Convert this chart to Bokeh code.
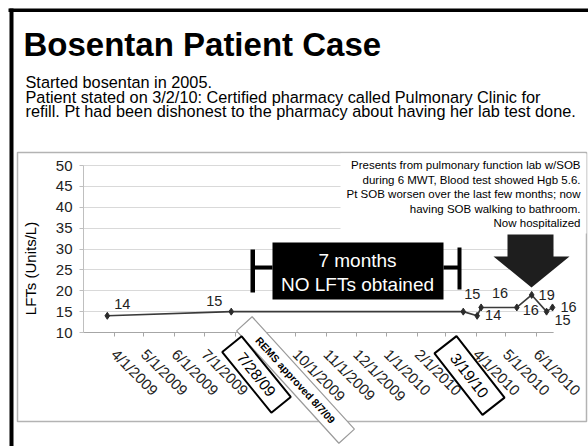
import pandas as pd
from math import pi, radians, cos, sin
from bokeh.plotting import figure
from bokeh.models import Range1d, FixedTicker, ColumnDataSource
from bokeh.core.properties import value
from bokeh.embed import file_html
from bokeh.resources import INLINE

# ---------------- data ----------------
test_dates = ["2009-03-25", "2009-07-28", "2010-03-19", "2010-04-02", "2010-04-06",
              "2010-05-12", "2010-05-27", "2010-06-11", "2010-06-17"]
lft_values = [14, 15, 15, 14, 16, 16, 19, 15, 16]
y_ticks = [10, 15, 20, 25, 30, 35, 40, 45, 50]
x_tick_dates = ["2009-04-01", "2009-05-01", "2009-06-01", "2009-07-01", "2009-08-01",
                "2009-09-01", "2009-10-01", "2009-11-01", "2009-12-01", "2010-01-01",
                "2010-02-01", "2010-03-01", "2010-04-01", "2010-05-01", "2010-06-01"]
x_tick_labels = ["4/1/2009", "5/1/2009", "6/1/2009", "7/1/2009", "8/1/2009",
                 "9/1/2009", "10/1/2009", "11/1/2009", "12/1/2009", "1/1/2010",
                 "2/1/2010", "3/1/2010", "4/1/2010", "5/1/2010", "6/1/2010"]
axis_start, axis_end = "2009-03-01", "2010-06-18"
y_min, y_max = 10, 50

# label placement (pixel offsets of each value label from its point)
label_dx = [15, -17, 9, 16, 19, 14, 15, 16, 16]
label_dy = [-12, -11, -18, -1, -14, 3, 0, 8, 0]

FONT = "Liberation Sans"
W, H = 588, 446
# where the chart's plot area sits on the page (pixels)
FX0, FX1, FY0, FY1 = 83, 553, 165, 332

t0 = pd.Timestamp(axis_start)
t1 = pd.Timestamp(axis_end)
px_per_day = (FX1 - FX0) / ((t1 - t0).days)
x_lo = t0 - pd.Timedelta(days=FX0 / px_per_day)
x_hi = t1 + pd.Timedelta(days=(W - FX1) / px_per_day)
px_per_unit = (FY1 - FY0) / (y_max - y_min)
y_lo = y_min - (H - FY1) / px_per_unit
y_hi = y_max + FY0 / px_per_unit

p = figure(width=W, height=H, x_axis_type="datetime", output_backend="svg",
           toolbar_location=None, title=None,
           x_range=Range1d(x_lo, x_hi), y_range=Range1d(y_lo, y_hi),
           min_border=0, min_border_left=0, min_border_right=0,
           min_border_top=0, min_border_bottom=0)
p.extra_x_ranges = {"px": Range1d(0, W)}
p.extra_y_ranges = {"py": Range1d(-H, 0)}
p.outline_line_color = None
p.background_fill_color = "white"
p.border_fill_color = "white"

ms = lambda s: pd.Timestamp(s).value / 1e6

# axes (library axes pinned at the plot-area edges)
tick_ms = [ms(d) for d in x_tick_dates]
xa = p.xaxis[0]
xa.fixed_location = y_min
xa.bounds = (ms(axis_start), ms(axis_end))
xa.ticker = FixedTicker(ticks=tick_ms)
xa.major_label_overrides = {t: l for t, l in zip(tick_ms, x_tick_labels)}
xa.major_label_orientation = -pi / 4
xa.major_label_text_font = FONT
xa.major_label_text_font_size = "15px"
xa.major_label_text_color = "#222222"
xa.major_label_standoff = 15
xa.axis_line_color = "#a6a6a6"
xa.major_tick_line_color = "#a6a6a6"
xa.major_tick_out = 4
xa.major_tick_in = 0
xa.minor_tick_line_color = None

ya = p.yaxis[0]
ya.fixed_location = ms(axis_start)
ya.bounds = (y_min, y_max)
ya.ticker = FixedTicker(ticks=y_ticks)
ya.major_label_text_font = FONT
ya.major_label_text_font_size = "15px"
ya.major_label_text_color = "#222222"
ya.major_label_standoff = 7
ya.axis_line_color = "#bfbfbf"
ya.major_tick_line_color = "#bfbfbf"
ya.major_tick_out = 4
ya.major_tick_in = 0
ya.minor_tick_line_color = None

p.xgrid.visible = False
p.ygrid.grid_line_color = "#d9d9d9"
p.ygrid.grid_line_width = 1
p.ygrid.bounds = (y_min + 1, y_max)
p.ygrid.cross_bounds = (ms(axis_start), ms(axis_end))

# data series
src = ColumnDataSource(dict(x=pd.to_datetime(test_dates), y=lft_values,
                            t=[str(v) for v in lft_values], dx=label_dx, dy=label_dy))
p.line("x", "y", source=src, line_color="#3a3a3a", line_width=1.6)
p.scatter("x", "y", source=src, marker="diamond", size=7, color="#2b2b2b")
p.text("x", "y", text="t", source=src, x_offset="dx", y_offset="dy",
       text_font=value(FONT), text_font_size="14.5px", text_color="#222222",
       text_align="center", text_baseline="middle")

# -------------- page decorations (page-pixel coordinates) --------------
R = dict(x_range_name="px", y_range_name="py", level="overlay")


def box(l, r, t, b, fill=None, line=None, lw=1.0):
    p.quad(left=[l], right=[r], top=[-t], bottom=[-b],
           fill_color=fill if fill else "white", fill_alpha=1.0 if fill else 0.0,
           line_color=line, line_width=lw, **R)


def poly(pts, fill, line=None, lw=1.0):
    p.patch([q[0] for q in pts], [-q[1] for q in pts], fill_color=fill, fill_alpha=1.0,
            line_color=line, line_width=lw, **R)


def rot_rect(cx, cy, L, Wd, ang, fill, line, lw):
    a = radians(ang)
    ux, uy, vx, vy = cos(a), sin(a), -sin(a), cos(a)
    pts = [(cx + sx * L / 2 * ux + sy * Wd / 2 * vx, cy + sx * L / 2 * uy + sy * Wd / 2 * vy)
           for sx, sy in [(-1, -1), (1, -1), (1, 1), (-1, 1)]]
    poly(pts, fill, line, lw)


def lab(x, y, text, size, bold=False, align="left", color="black", angle=0.0):
    # y is the vertical centre of the text line
    p.text([x], [-y], text=[text], text_font=value(FONT), text_font_size=f"{size}px",
           text_font_style="bold" if bold else "normal", text_align=align,
           text_baseline="middle", text_color=color, angle=angle, **R)


# slide border and chart frame
box(8, 600, 8, 11.5, fill="black")
box(9, 13, 8, 460, fill="black")
box(17, 586, 152, 421, line="#b3b3b3", lw=1.5)

# title and notes
lab(23, 44, "Bosentan Patient Case", 33, bold=True)
lab(25, 81.5, "Started bosentan in 2005.", 16.3)
lab(25, 96, "Patient stated on 3/2/10:  Certified pharmacy called Pulmonary Clinic for", 16.3)
lab(25, 110.5, "refill. Pt had been dishonest to the pharmacy about having her lab test done.", 16.3)

# y axis title
lab(30, 268, "LFTs (Units/L)", 15, align="center", angle=pi / 2)

# note box at top right
box(340, 586, 153, 233, fill="white")
note = ["Presents from pulmonary function lab w/SOB",
        "during 6 MWT, Blood test showed Hgb 5.6.",
        "Pt SOB worsen over the last few months; now",
        "having SOB walking to bathroom.",
        "Now hospitalized"]
for i, s in enumerate(note):
    lab(580, 164.5 + i * 14.5, s, 11.5, align="right")

# "7 months" callout with brackets
box(272, 443, 242, 299, fill="black")
box(250, 254.5, 249, 292, fill="black")
box(252, 272, 265, 269, fill="black")
box(443, 459, 265, 269, fill="black")
box(457, 461, 247, 289, fill="black")
lab(357, 259.5, "7 months", 19, align="center", color="white")
lab(357, 283.5, "NO LFTs obtained", 19, align="center", color="white")

# big down arrow
poly([(507, 234), (553, 234), (553, 256), (569, 256), (531, 287), (493, 256), (507, 256)],
     fill="#1e1e1e")

# rotated date boxes
rot_rect(295, 379.5, 152, 21, 47.7, "white", "#9a9a9a", 1.2)
lab(295, 379.5, "REMS approved 8/7/09", 10.5, bold=True, align="center",
    angle=-radians(47.7))
rot_rect(256, 374, 78, 25, 51, "white", "black", 2)
lab(256, 374, "7/28/09", 15.5, align="center", angle=-radians(51))
rot_rect(469, 375, 78, 28, 52, "white", "black", 2)
lab(469, 375, "3/19/10", 15.5, align="center", angle=-radians(52))

open("out.html", "w").write(file_html(p, INLINE))
